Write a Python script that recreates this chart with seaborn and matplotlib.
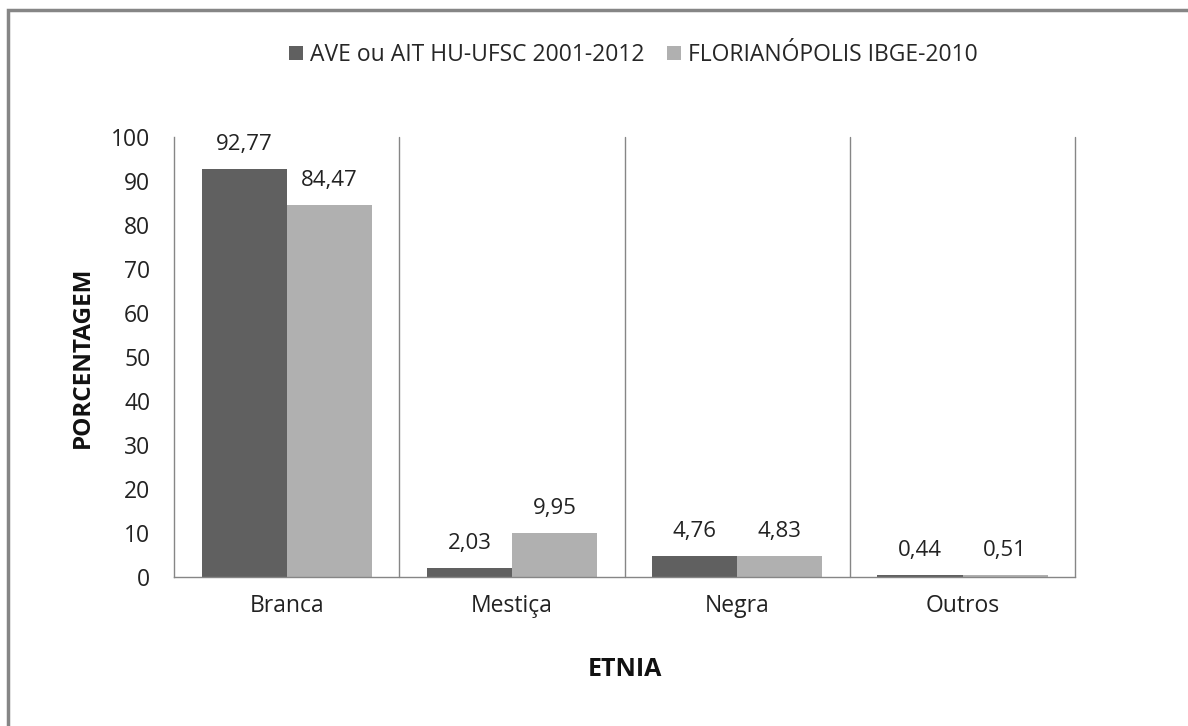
import matplotlib
matplotlib.use("Agg")
import matplotlib.pyplot as plt
import pandas as pd
import seaborn as sns
from matplotlib.patches import Rectangle
from matplotlib.ticker import FixedLocator, MultipleLocator

categories = ["Branca", "Mestiça", "Negra", "Outros"]
series_names = ["AVE ou AIT HU-UFSC 2001-2012", "FLORIANÓPOLIS IBGE-2010"]
hospital_values = [92.77, 2.03, 4.76, 0.44]
ibge_values = [84.47, 9.95, 4.83, 0.51]
bar_colors = ["#606060", "#b0b0b0"]

sns.set_theme(style="white")
plt.rcParams["font.family"] = ["Open Sans", "DejaVu Sans"]

frame = pd.DataFrame({
    "etnia": categories * 2,
    "serie": [series_names[0]] * len(categories) + [series_names[1]] * len(categories),
    "valor": hospital_values + ibge_values,
})

fig = plt.figure(figsize=(11.88, 7.26), dpi=100)
ax = fig.add_axes([0.1465, 0.2052, 0.7585, 0.6061])

sns.barplot(
    data=frame, x="etnia", y="valor", hue="serie", order=categories,
    hue_order=series_names, palette=bar_colors, width=0.755,
    saturation=1, linewidth=0, ax=ax,
)

for container in ax.containers:
    labels = [f"{v:.2f}".replace(".", ",") for v in container.datavalues]
    ax.bar_label(container, labels=labels, padding=10, fontsize=16, color="#222222")

ax.set_xlim(-0.5, len(categories) - 0.5)
ax.set_ylim(0, 100)
ax.yaxis.set_major_locator(MultipleLocator(10))
ax.xaxis.set_minor_locator(FixedLocator([i + 0.5 for i in range(len(categories))]))
ax.grid(which="minor", axis="x", color="#868686", linewidth=1)
for tick in ax.xaxis.get_minor_ticks():
    tick.gridline.set_clip_on(False)
ax.tick_params(axis="both", which="both", length=0, labelsize=16.5, colors="#222222")
ax.tick_params(axis="y", pad=17)
ax.tick_params(axis="x", pad=12)

for side in ["top", "right"]:
    ax.spines[side].set_visible(False)
for side in ["left", "bottom"]:
    ax.spines[side].set_color("#868686")
    ax.spines[side].set_linewidth(1)

ax.set_xlabel("ETNIA", fontsize=18, fontweight="bold", color="#111111", labelpad=28)
ax.set_ylabel("PORCENTAGEM", fontsize=17.5, fontweight="bold", color="#111111", labelpad=12)

handles, labels = ax.get_legend_handles_labels()
ax.legend(
    handles, labels, loc="center", bbox_to_anchor=(0.533, 0.924),
    bbox_transform=fig.transFigure, ncol=2, frameon=False, fontsize=16.5,
    handlelength=0.6, handleheight=0.6, handletextpad=0.3, columnspacing=1.0,
)

fig.patches.append(Rectangle(
    (8 / 1188, -0.1), 1.2, 1.1 - 10 / 726, transform=fig.transFigure,
    fill=False, edgecolor="#868686", linewidth=2.5,
))

fig.savefig("out.png", dpi=100, facecolor="white")
